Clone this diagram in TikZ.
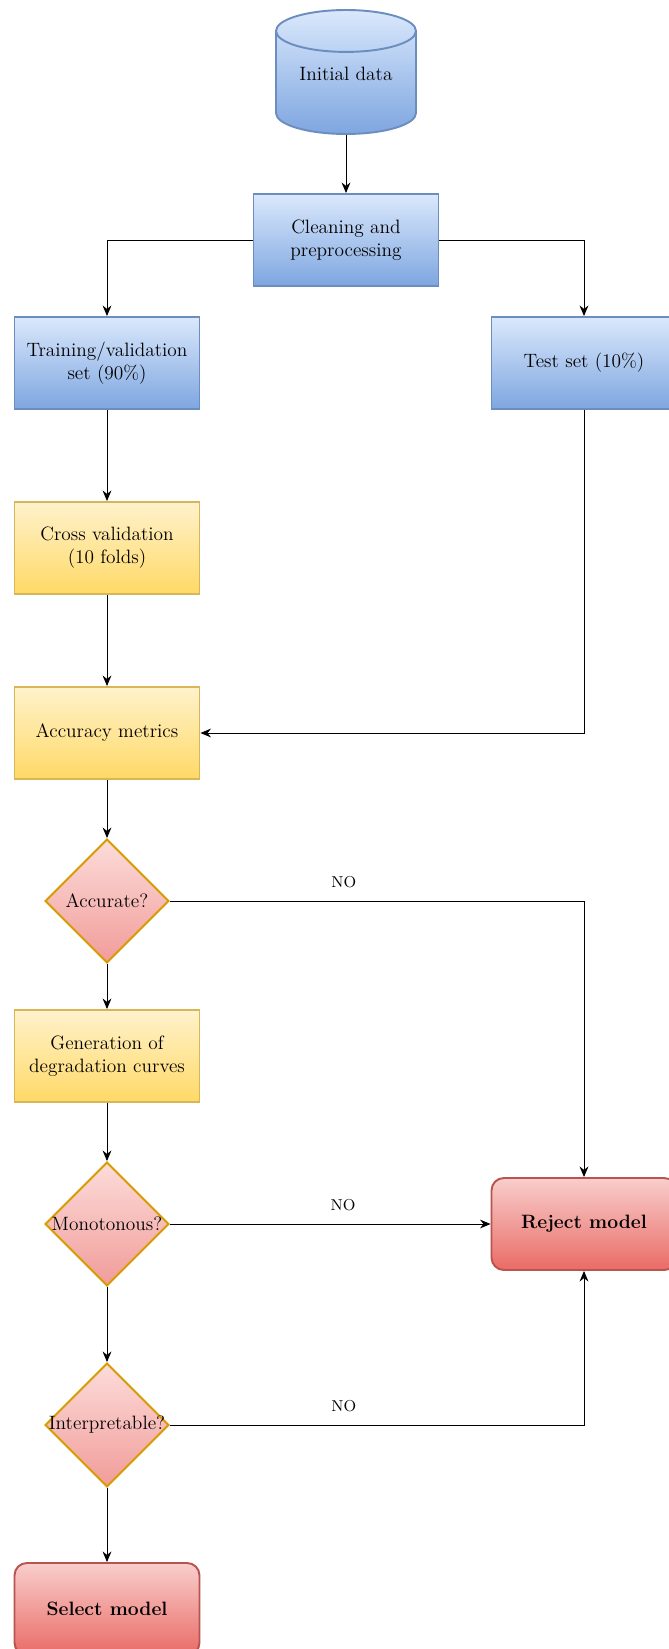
\documentclass[tikz,border=0pt]{standalone}
\usepackage{amsmath}
\usepackage{tikz}
\usetikzlibrary{shapes.geometric,arrows.meta}

\definecolor{bluetop}{HTML}{DAE8FC}
\definecolor{bluebot}{HTML}{7EA6E0}
\definecolor{bluedraw}{HTML}{6C8EBF}
\definecolor{yeltop}{HTML}{FFF2CC}
\definecolor{yelbot}{HTML}{FFD966}
\definecolor{yeldraw}{HTML}{D6B656}
\definecolor{pinktop}{HTML}{FCDCDA}
\definecolor{pinkbot}{HTML}{F19C99}
\definecolor{orangedraw}{HTML}{D79B00}
\definecolor{redtop}{HTML}{F8CECC}
\definecolor{redbot}{HTML}{EA6B66}
\definecolor{reddraw}{HTML}{B85450}

\begin{document}
\begin{tikzpicture}[x=0.02cm,y=-0.02cm,
	font=\fontsize{11}{13}\selectfont,
	box/.style={rectangle,minimum width=3.7cm,minimum height=1.84cm,inner sep=2pt,align=center,line width=1.1pt},
	bluebox/.style={box,draw=bluedraw,top color=bluetop,bottom color=bluebot},
	yelbox/.style={box,draw=yeldraw,top color=yeltop,bottom color=yelbot},
	redbox/.style={box,rounded corners=7pt,draw=reddraw,top color=redtop,bottom color=redbot,font=\fontsize{11}{13}\selectfont\bfseries},
	decision/.style={diamond,minimum width=2.48cm,minimum height=2.48cm,inner sep=0pt,line width=1.1pt,draw=orangedraw,top color=pinktop,bottom color=pinkbot},
	arr/.style={-{Stealth[length=6pt,width=5pt]},line width=0.5pt},
	no/.style={above=4pt,font=\small}]
	\useasboundingbox (0,0) rectangle (669,1649);
	
	\node (data) [cylinder,shape border rotate=90,aspect=0.4,minimum width=2.8cm,minimum height=2.48cm,anchor=shape center,text depth=15pt,draw=bluedraw,line width=1.1pt,top color=bluetop,bottom color=bluebot] at (346,72) {Initial data};
	\node (clean) [bluebox] at (346,240) {Cleaning and\\preprocessing};
	\node (train) [bluebox] at (107,363) {Training/validation\\set (90\%)};
	\node (test) [bluebox] at (584,363) {Test set (10\%)};
	\node (cross) [yelbox] at (107,548) {Cross validation\\(10 folds)};
	\node (metrics) [yelbox] at (107,733) {Accuracy metrics};
	\node (accurate) [decision,label=center:Accurate?] at (107,901) {};
	\node (curves) [yelbox] at (107,1056) {Generation of\\degradation curves};
	\node (mono) [decision,label=center:Monotonous?] at (107,1224) {};
	\node (interp) [decision,label=center:Interpretable?] at (107,1425) {};
	\node (select) [redbox] at (107,1609) {Select model};
	\node (reject) [redbox] at (584,1224) {Reject model};
	
	\draw [arr] (data) -- (clean);
	\draw [arr] (clean.west) -| (train.north);
	\draw [arr] (clean.east) -| (test.north);
	\draw [arr] (train) -- (cross);
	\draw [arr] (cross) -- (metrics);
	\draw [arr] (test.south) |- (metrics.east);
	\draw [arr] (metrics) -- (accurate);
	\draw [arr] (accurate) -- (curves);
	\draw [arr] (curves) -- (mono);
	\draw [arr] (mono) -- (interp);
	\draw [arr] (interp) -- (select);
	
	\draw [arr] (accurate.east) -| node (no1) [no,pos=0.21] {NO} (reject.north);
	\draw [arr] (mono.east) -- node (no2) [no,pos=0.54] {NO} (reject.west);
	\draw [arr] (interp.east) -| node (no3) [no,pos=0.21] {NO} (reject.south);
	
\end{tikzpicture}
\end{document}
